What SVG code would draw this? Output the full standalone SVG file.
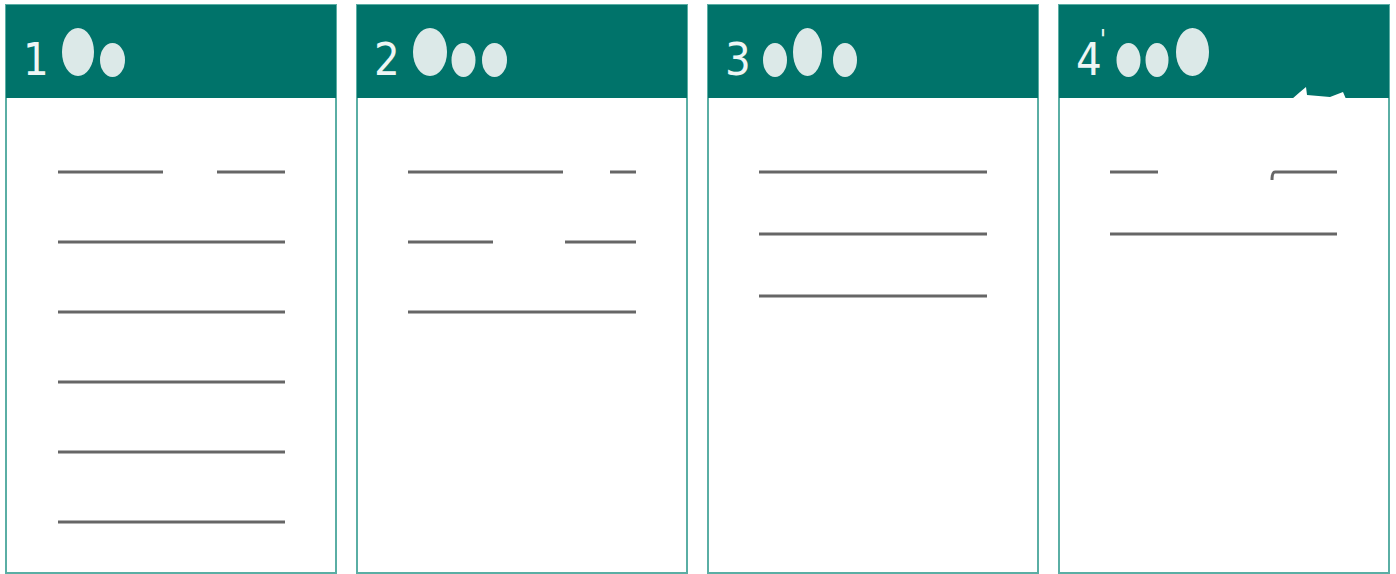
<svg xmlns="http://www.w3.org/2000/svg" width="1396" height="574" viewBox="0 0 1396 574">
<style>
.card{fill:#ffffff;stroke:#5aaea4;stroke-width:2}
.hdr{fill:#00736a}
.num{fill:#eef6f5;font-family:"DejaVu Sans Condensed","DejaVu Sans",sans-serif;font-size:45px;font-stretch:condensed;font-weight:500}
.dot{fill:#dce9e8}
.ln{stroke:#666666;stroke-width:3;fill:none}
</style>
<rect width="1396" height="574" fill="#ffffff"/>
<g id="card1">
<rect class="card" x="6" y="5" width="330" height="568"/>
<rect class="hdr" x="6" y="5" width="330" height="93"/>
<text class="num" x="23" y="75">1</text>
<ellipse class="dot" cx="78" cy="52" rx="16" ry="24"/>
<ellipse class="dot" cx="112.5" cy="60" rx="12.5" ry="17"/>
<path class="ln" d="M58 172H163M217 172H285M58 242H285M58 312H285M58 382H285M58 452H285M58 522H285"/>
</g>
<g id="card2">
<rect class="card" x="357" y="5" width="330" height="568"/>
<rect class="hdr" x="357" y="5" width="330" height="93"/>
<text class="num" x="374" y="75">2</text>
<ellipse class="dot" cx="430" cy="52" rx="17" ry="24"/>
<ellipse class="dot" cx="463.5" cy="60" rx="12" ry="17"/>
<ellipse class="dot" cx="494.5" cy="60" rx="12.5" ry="17"/>
<path class="ln" d="M408 172H563M610 172H636M408 242H493M565 242H636M408 312H636"/>
</g>
<g id="card3">
<rect class="card" x="708" y="5" width="330" height="568"/>
<rect class="hdr" x="708" y="5" width="330" height="93"/>
<text class="num" x="725" y="75">3</text>
<ellipse class="dot" cx="775" cy="60" rx="12" ry="17"/>
<ellipse class="dot" cx="807.5" cy="52" rx="14.5" ry="24"/>
<ellipse class="dot" cx="845" cy="60" rx="12" ry="17"/>
<path class="ln" d="M759 172H987M759 234H987M759 296H987"/>
</g>
<g id="card4">
<rect class="card" x="1059" y="5" width="330" height="568"/>
<rect class="hdr" x="1059" y="5" width="330" height="93"/>
<text class="num" x="1076" y="75">4<tspan font-size="26" dx="-2" dy="-26">'</tspan></text>
<ellipse class="dot" cx="1128.5" cy="60" rx="12" ry="17"/>
<ellipse class="dot" cx="1157" cy="60" rx="11.5" ry="17"/>
<ellipse class="dot" cx="1192.5" cy="52" rx="16.5" ry="24"/>
<path d="M1292 99L1300 92L1306 87L1307 95L1330 97L1343 92L1346 99Z" fill="#ffffff"/>
<path class="ln" d="M1110 172H1158M1337 172H1275Q1272 172 1272 180"/>
<path class="ln" d="M1110 234H1337"/>
</g>
<g id="connectors"/>
</svg>
